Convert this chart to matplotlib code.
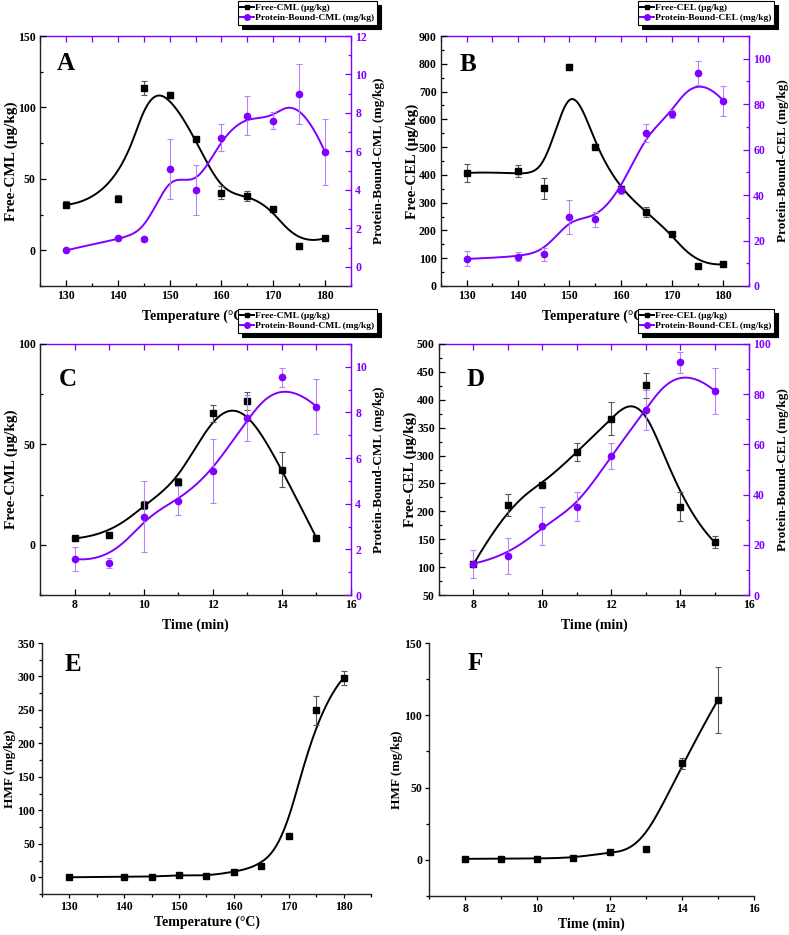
import numpy as np
import matplotlib
matplotlib.use("Agg")
import matplotlib.pyplot as plt
from matplotlib.lines import Line2D
from matplotlib.ticker import MultipleLocator

plt.rcParams['font.family'] = ['Liberation Serif', 'DejaVu Serif']
plt.rcParams['font.weight'] = 'bold'
plt.rcParams['axes.labelweight'] = 'bold'
plt.rcParams['mathtext.default'] = 'regular'

# --- datos ---
temp = [130, 140, 145, 150, 155, 160, 165, 170, 175, 180]
tiempo = [8, 9, 10, 11, 12, 13, 14, 15]

cml_libre_t = [31.8, 36.0, 113.4, 108.7, 77.8, 40.2, 38.3, 29.2, 3.1, 8.5]
cml_libre_t_err = [2.5, 2.5, 4.8, 2.0, 1.5, 4.6, 3.5, 1.0, 2.0, 1.0]
cml_unida_t = [0.85, 1.49, 1.44, 5.09, 4.0, 6.72, 7.86, 7.6, 8.97, 5.96]
cml_unida_t_err = [0.05, 0.08, 0.1, 1.55, 1.3, 0.69, 1.02, 0.43, 1.56, 1.72]

cel_libre_t = [407, 415, 352, 790, 502, 349, 266, 186, 73, 78]
cel_libre_t_err = [31, 22, 38, 8, 10, 10, 18, 5, 3, 3]
cel_unida_t = [11.9, 12.9, 13.9, 30.2, 29.3, 42.2, 67.2, 75.8, 93.9, 81.5]
cel_unida_t_err = [3.3, 2.0, 3.0, 7.5, 3.4, 1.5, 4.0, 1.8, 5.3, 6.7]

cml_libre_m = [3.2, 4.8, 19.8, 31.4, 65.4, 71.6, 37.3, 3.5]
cml_libre_m_err = [0.5, 0.5, 2.0, 2.0, 4.4, 4.6, 8.7, 0.5]
cml_unida_m = [1.58, 1.42, 3.43, 4.14, 5.43, 7.75, 9.55, 8.26]
cml_unida_m_err = [0.53, 0.22, 1.55, 0.62, 1.39, 1.02, 0.42, 1.21]

cel_libre_m = [105, 211, 248, 306, 366, 426, 208, 145]
cel_libre_m_err = [3, 20, 3, 16, 30, 22, 26, 10]
cel_unida_m = [12.5, 15.5, 27.4, 35.2, 55.4, 73.8, 92.7, 81.4]
cel_unida_m_err = [5.6, 7.2, 7.5, 5.7, 5.3, 8.0, 4.2, 9.1]

hmf_t = [0, 1, 0.5, 3.5, 2, 8, 17, 61, 249.5, 298]
hmf_t_err = [0, 0, 0, 0, 0, 0, 0, 0, 21.5, 10.5]
hmf_m = [0.7, 0.9, 0.9, 1.4, 5.1, 7.4, 66.9, 110.6]
hmf_m_err = [0, 0, 0, 0, 0, 0, 3.8, 22.8]

MORADO = '#8000FF'
MORADO_ERR = '#B980FF'
GRIS_ERR = '#555555'
TAM_TICK = 8.5


def bspline(px, py, k=3, num=300):
    """B-spline cúbica sujeta usando los puntos como polígono de control (como Origin)."""
    ctrl = np.column_stack([px, py]).astype(float)
    n = len(ctrl)
    knots = np.concatenate([np.zeros(k), np.linspace(0, 1, n - k + 1), np.ones(k)])
    out = []
    for t in np.linspace(0, 1, num):
        s = min(np.searchsorted(knots, t, side='right') - 1, n - 1)
        d = [ctrl[j + s - k].copy() for j in range(k + 1)]
        for r in range(1, k + 1):
            for j in range(k, r - 1, -1):
                den = knots[j + 1 + s - r] - knots[j + s - k]
                a = 0.0 if den == 0 else (t - knots[j + s - k]) / den
                d[j] = (1 - a) * d[j - 1] + a * d[j]
        out.append(d[k])
    out = np.array(out)
    return out[:, 0], out[:, 1]


def serie(ax, x, y, err, color, ecolor, marker, ms):
    cx, cy = bspline(x, y)
    ax.plot(cx, cy, color=color, lw=1.4, zorder=2)
    ax.errorbar(x, y, yerr=err, fmt='none', ecolor=ecolor, elinewidth=0.8,
                capsize=2.2, capthick=0.8, zorder=3)
    ax.plot(x, y, linestyle='none', marker=marker, ms=ms, color=color, zorder=4)


def fig_px(l, r, t, b):
    return [l / 789, 1 - b / 935, (r - l) / 789, (b - t) / 935]


def panel_doble(fig, rect, x, y1, e1, y2, e2, letra, xlabel, ylabel1, ylabel2,
                xlim, xmaj, xmin, ylim1, y1maj, y1min, ylim2, y2maj, y2min,
                etiquetas, leg_pos, letra_pos):
    ax = fig.add_axes(rect)
    ax2 = ax.twinx()
    serie(ax, x, y1, e1, 'black', GRIS_ERR, 's', 4)
    serie(ax2, x, y2, e2, MORADO, MORADO_ERR, 'o', 4.5)
    ax.set_xlim(*xlim)
    ax.set_ylim(*ylim1)
    ax2.set_ylim(*ylim2)
    ax.xaxis.set_major_locator(MultipleLocator(xmaj))
    ax.xaxis.set_minor_locator(MultipleLocator(xmin))
    ax.yaxis.set_major_locator(MultipleLocator(y1maj))
    ax.yaxis.set_minor_locator(MultipleLocator(y1min))
    ax2.yaxis.set_major_locator(MultipleLocator(y2maj))
    ax2.yaxis.set_minor_locator(MultipleLocator(y2min))

    ax.tick_params(which='both', direction='in', labelsize=TAM_TICK, width=0.9, pad=3)
    ax.tick_params(which='major', length=4)
    ax.tick_params(which='minor', length=2.5)
    ax2.tick_params(axis='y', which='both', direction='in', colors=MORADO,
                    labelsize=TAM_TICK, width=0.9, pad=3)
    ax2.tick_params(axis='y', which='major', length=4)
    ax2.tick_params(axis='y', which='minor', length=2.5)

    sec = ax.secondary_xaxis('top')
    sec.xaxis.set_major_locator(MultipleLocator(xmaj))
    sec.xaxis.set_minor_locator(MultipleLocator(xmin))
    sec.tick_params(which='both', direction='in', color=MORADO, labeltop=False, width=0.9)
    sec.tick_params(which='major', length=4)
    sec.tick_params(which='minor', length=4)
    sec.spines['top'].set_color(MORADO)
    sec.spines['top'].set_linewidth(1.0)

    for nombre in ['left', 'bottom']:
        ax.spines[nombre].set_linewidth(1.0)
        ax.spines[nombre].set_color('#222222')
    ax.spines['top'].set_visible(False)
    ax.spines['right'].set_visible(False)
    for nombre in ['left', 'bottom', 'top']:
        ax2.spines[nombre].set_visible(False)
    ax2.spines['right'].set_color(MORADO)
    ax2.spines['right'].set_linewidth(1.0)

    for lab in ax.get_xticklabels() + ax.get_yticklabels() + ax2.get_yticklabels():
        lab.set_fontweight('bold')

    ax.set_xlabel(xlabel, fontsize=10, labelpad=5)
    ax.set_ylabel(ylabel1, fontsize=11, labelpad=0)
    ax2.set_ylabel(ylabel2, fontsize=9.5, labelpad=4, color='black')
    ax.text(letra_pos[0], letra_pos[1], letra, transform=ax.transAxes,
            fontsize=18, fontweight='bold', va='center', ha='left')

    handles = [Line2D([], [], color='black', marker='s', ms=3.5, lw=1.4),
               Line2D([], [], color=MORADO, marker='o', ms=4, lw=1.4)]
    leg = ax2.legend(handles, etiquetas, loc='upper left',
                     bbox_to_anchor=(leg_pos[0] / 789, 1 - leg_pos[1] / 935),
                     bbox_transform=fig.transFigure, fontsize=6.8,
                     frameon=True, fancybox=False, borderaxespad=0,
                     handlelength=1.4, handletextpad=0.2, borderpad=0.25,
                     labelspacing=0.2,
                     shadow={'color': 'black', 'alpha': 1.0, 'ox': 3, 'oy': -3})
    leg.get_frame().set_edgecolor('black')
    leg.get_frame().set_linewidth(0.8)
    leg.set_zorder(20)
    for txt in leg.get_texts():
        txt.set_fontweight('bold')
    return ax, ax2


def panel_simple(fig, rect, x, y, e, letra, xlabel, xlim, xmaj, xmin, ylim, ymaj, ymin, letra_pos):
    ax = fig.add_axes(rect)
    serie(ax, x, y, e, 'black', GRIS_ERR, 's', 4)
    ax.set_xlim(*xlim)
    ax.set_ylim(*ylim)
    ax.xaxis.set_major_locator(MultipleLocator(xmaj))
    ax.xaxis.set_minor_locator(MultipleLocator(xmin))
    ax.yaxis.set_major_locator(MultipleLocator(ymaj))
    ax.yaxis.set_minor_locator(MultipleLocator(ymin))
    ax.tick_params(which='both', direction='out', labelsize=TAM_TICK, width=0.9, pad=2)
    ax.tick_params(which='major', length=3)
    ax.tick_params(which='minor', length=2)
    ax.spines['top'].set_visible(False)
    ax.spines['right'].set_visible(False)
    for nombre in ['left', 'bottom']:
        ax.spines[nombre].set_linewidth(1.0)
        ax.spines[nombre].set_color('#222222')
    for lab in ax.get_xticklabels() + ax.get_yticklabels():
        lab.set_fontweight('bold')
    ax.set_xlabel(xlabel, fontsize=10, labelpad=2)
    ax.set_ylabel('HMF (mg/kg)', fontsize=9.5, labelpad=1)
    ax.text(letra_pos[0], letra_pos[1], letra, transform=ax.transAxes,
            fontsize=18, fontweight='bold', va='center', ha='left')
    return ax


fig = plt.figure(figsize=(7.89, 9.35), dpi=100)

panel_doble(fig, fig_px(40, 351, 36, 286), temp, cml_libre_t, cml_libre_t_err,
            cml_unida_t, cml_unida_t_err, 'A', 'Temperature (°C)',
            'Free-CML (μg/kg)', 'Protein-Bound-CML (mg/kg)',
            (125, 185), 10, 5, (-25, 150), 50, 25, (-1, 12), 2, 1,
            ['Free-CML (μg/kg)', 'Protein-Bound-CML (mg/kg)'], (238, 1), (0.055, 0.89))

panel_doble(fig, fig_px(441, 749, 36, 286), temp, cel_libre_t, cel_libre_t_err,
            cel_unida_t, cel_unida_t_err, 'B', 'Temperature (°C)',
            'Free-CEL (μg/kg)', 'Protein-Bound-CEL (mg/kg)',
            (125, 185), 10, 5, (0, 900), 100, 50, (0, 110), 20, 10,
            ['Free-CEL (μg/kg)', 'Protein-Bound-CEL (mg/kg)'], (638, 1), (0.06, 0.885))

panel_doble(fig, fig_px(40, 351, 344, 595), tiempo, cml_libre_m, cml_libre_m_err,
            cml_unida_m, cml_unida_m_err, 'C', 'Time (min)',
            'Free-CML (μg/kg)', 'Protein-Bound-CML (mg/kg)',
            (7, 16), 2, 1, (-25, 100), 50, 25, (0, 11), 2, 1,
            ['Free-CML (μg/kg)', 'Protein-Bound-CML (mg/kg)'], (238, 309), (0.06, 0.86))

panel_doble(fig, fig_px(439, 749, 344, 595), tiempo, cel_libre_m, cel_libre_m_err,
            cel_unida_m, cel_unida_m_err, 'D', 'Time (min)',
            'Free-CEL (μg/kg)', 'Protein-Bound-CEL (mg/kg)',
            (7, 16), 2, 1, (50, 500), 50, 25, (0, 100), 20, 10,
            ['Free-CEL (μg/kg)', 'Protein-Bound-CEL (mg/kg)'], (638, 309), (0.09, 0.857))

panel_simple(fig, fig_px(42, 371, 643, 894), temp, hmf_t, hmf_t_err, 'E', 'Temperature (°C)',
             (125, 185), 10, 5, (-25, 350), 50, 25, (0.07, 0.915))

panel_simple(fig, fig_px(429, 754, 643, 896), tiempo, hmf_m, hmf_m_err, 'F', 'Time (min)',
             (7, 16), 2, 1, (-25, 150), 50, 25, (0.12, 0.92))

fig.savefig('out.png', dpi=100)
